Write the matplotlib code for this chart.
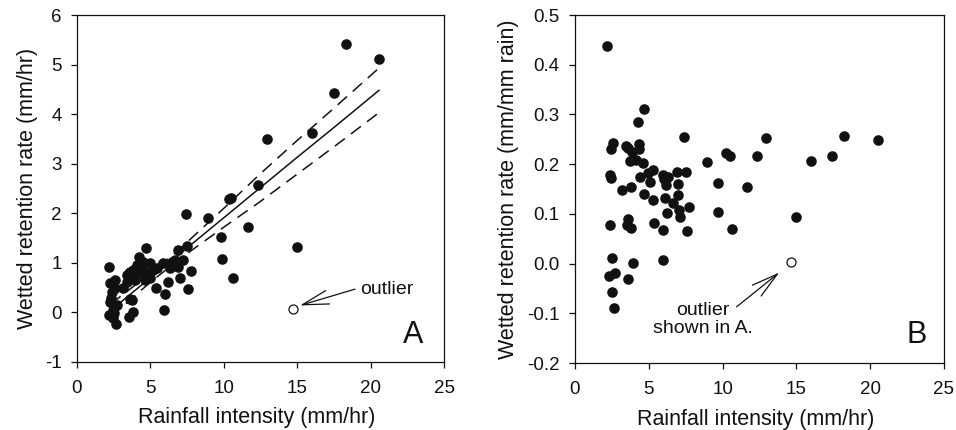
import matplotlib
matplotlib.use('Agg')
import matplotlib.pyplot as plt

plt.rcParams['font.family'] = ['Liberation Sans', 'DejaVu Sans']
plt.rcParams['lines.scale_dashes'] = False
plt.rcParams['axes.unicode_minus'] = False

# ---------------- Panel A data ----------------
a_x = [18.3, 20.57, 17.48, 16.0, 12.94, 12.31, 10.37, 10.49, 7.42, 8.95, 11.63, 9.83,
       15.0, 9.85, 10.65, 7.47, 6.90,
       4.70, 4.25, 2.20, 7.77, 7.58, 5.99, 5.95, 5.36, 6.22, 7.02, 6.68, 6.50, 5.88,
       6.34, 6.90, 5.43, 4.86, 4.63, 3.80, 3.60, 3.38, 3.16, 3.61, 3.84, 3.56, 2.59,
       2.36, 2.25, 2.20, 2.47, 2.66, 2.43, 2.25, 3.38, 4.29, 3.95, 4.97, 4.47, 3.56,
       5.20, 3.73, 4.10, 4.40, 5.00, 7.20, 2.60, 2.30, 2.70, 2.50]
a_y = [5.41, 5.11, 4.43, 3.61, 3.50, 2.57, 2.29, 2.31, 1.98, 1.90, 1.72, 1.53,
       1.32, 1.08, 0.69, 1.35, 1.26,
       1.29, 1.12, 0.92, 0.83, 0.48, 0.38, 0.05, 0.50, 0.62, 0.69, 1.06, 1.02, 0.99,
       0.89, 0.92, 0.89, 0.79, 0.65, 0.85, 0.82, 0.75, 0.49, 0.28, 0.01, -0.10, 0.65,
       0.42, 0.22, -0.05, -0.12, -0.24, 0.05, 0.59, 0.62, 0.79, 0.65, 0.99, 1.02, 0.80,
       0.85, 0.26, 0.95, 0.90, 0.70, 1.05, 0.50, 0.30, 0.15, -0.02]
a_out_x = [14.69]
a_out_y = [0.06]

# regression line and confidence band
fit_x = [2.3, 5.0, 7.0, 10.0, 12.5, 15.0, 17.5, 20.57]
fit_y = [0.04, 0.70, 1.18, 1.91, 2.52, 3.13, 3.73, 4.48]
ci_hi = [0.17, 0.79, 1.28, 2.10, 2.80, 3.47, 4.12, 4.93]
ci_lo = [-0.09, 0.61, 1.08, 1.72, 2.24, 2.79, 3.34, 4.03]

# ---------------- Panel B data ----------------
b_x = [2.20, 4.67, 4.25, 7.41, 2.60, 2.42, 3.45, 3.60, 4.36, 4.36, 3.84, 3.73, 4.13,
       4.63, 8.92, 2.35, 2.42, 5.31, 4.97, 4.40, 5.08, 5.98, 6.32, 6.00, 6.89, 7.52,
       6.17, 7.00, 3.16, 3.79, 4.67, 7.00, 6.10, 5.31, 6.62, 7.75, 6.26, 7.07, 7.11,
       9.71, 9.71, 2.37, 3.57, 3.50, 3.79, 5.37, 5.98, 7.56, 2.52, 5.98, 3.91, 2.71,
       2.33, 3.61, 2.48, 2.66,
       10.23, 10.50, 12.31, 12.92, 11.63, 10.62, 14.97, 15.99, 17.43, 18.25, 20.55]
b_y = [0.437, 0.310, 0.285, 0.254, 0.242, 0.230, 0.237, 0.233, 0.241, 0.230, 0.225,
       0.207, 0.208, 0.203, 0.205, 0.178, 0.172, 0.188, 0.182, 0.174, 0.165, 0.178,
       0.175, 0.170, 0.184, 0.185, 0.158, 0.160, 0.148, 0.155, 0.139, 0.138, 0.131,
       0.127, 0.121, 0.113, 0.102, 0.108, 0.094, 0.163, 0.104, 0.078, 0.089, 0.078,
       0.071, 0.082, 0.068, 0.066, 0.012, 0.007, 0.001, -0.018, -0.026, -0.032,
       -0.057, -0.090,
       0.222, 0.216, 0.216, 0.253, 0.154, 0.070, 0.093, 0.206, 0.216, 0.256, 0.249]
b_out_x = [14.63]
b_out_y = [0.004]

x_ticks = [0, 5, 10, 15, 20, 25]
a_yticks = [-1, 0, 1, 2, 3, 4, 5, 6]
b_yticks = [-0.2, -0.1, 0.0, 0.1, 0.2, 0.3, 0.4, 0.5]

W, H = 956, 430
fig = plt.figure(figsize=(W / 100, H / 100), dpi=100)


def px_axes(l, t, r, b):
    return [l / W, 1 - b / H, (r - l) / W, (b - t) / H]


axA = fig.add_axes(px_axes(77, 15, 444, 362))
axB = fig.add_axes(px_axes(575, 15, 944, 363))

ink = '#111111'
for ax in (axA, axB):
    for s in ax.spines.values():
        s.set_linewidth(0.9)
        s.set_color(ink)
    ax.tick_params(direction='out', length=4, width=0.9, colors=ink,
                   labelsize=13.5, top=False, right=False)
    ax.tick_params(axis='y', pad=7)
    ax.tick_params(axis='x', pad=9)
    ax.set_xlim(0, 25)
    ax.set_xticks(x_ticks)
    ax.set_xlabel('Rainfall intensity (mm/hr)', fontsize=15.5, color=ink)

# Panel A
axA.set_ylim(-1, 6)
axA.set_yticks(a_yticks)
axA.set_ylabel('Wetted retention rate (mm/hr)', fontsize=15.5, color=ink)
axA.plot(a_x, a_y, 'o', ms=6.6, color=ink, mec=ink, zorder=3)
axA.plot(a_out_x, a_out_y, 'o', ms=6.5, mfc='white', mec=ink, mew=0.9, zorder=3)
axA.plot(fit_x, fit_y, '-', color=ink, lw=1.1, zorder=2)
axA.plot(fit_x, ci_hi, color=ink, lw=1.1, dashes=(9, 5.5), zorder=2)
axA.plot(fit_x, ci_lo, color=ink, lw=1.1, dashes=(9, 5.5), zorder=2)
axA.annotate('', xy=(15.19, 0.14), xytext=(18.94, 0.47),
             arrowprops=dict(arrowstyle='->,head_length=1.9,head_width=0.5',
                             lw=0.9, color=ink, shrinkA=0, shrinkB=0,
                             mutation_scale=10))
axA.text(19.28, 0.47, 'outlier', ha='left', va='center', fontsize=14, color=ink)
axA.text(22.9, -0.46, 'A', ha='center', va='center', fontsize=22, color=ink)

# Panel B
axB.set_ylim(-0.2, 0.5)
axB.set_yticks(b_yticks)
axB.set_yticklabels([f'{v:.1f}' for v in b_yticks])
axB.set_ylabel('Wetted retention rate (mm/mm rain)', fontsize=15.5, color=ink)
axB.plot(b_x, b_y, 'o', ms=6.6, color=ink, mec=ink, zorder=3)
axB.plot(b_out_x, b_out_y, 'o', ms=6.5, mfc='white', mec=ink, mew=0.9, zorder=3)
axB.annotate('', xy=(13.84, -0.018), xytext=(10.95, -0.087),
             arrowprops=dict(arrowstyle='->,head_length=1.9,head_width=0.5',
                             lw=0.9, color=ink, shrinkA=0, shrinkB=0,
                             mutation_scale=10))
axB.text(8.67, -0.112, 'outlier\nshown in A.', ha='center', va='center',
         multialignment='center', fontsize=14, color=ink, linespacing=1.1)
axB.text(23.15, -0.144, 'B', ha='center', va='center', fontsize=22, color=ink)

# label positions
for ax, ylx in ((axA, -0.136), (axB, -0.179)):
    ax.xaxis.set_label_coords(0.49, -0.161)
    ax.xaxis.label.set_verticalalignment('center')
    ax.yaxis.set_label_coords(ylx, 0.5)
    ax.yaxis.label.set_verticalalignment('center')

fig.savefig('out.png', dpi=100)
